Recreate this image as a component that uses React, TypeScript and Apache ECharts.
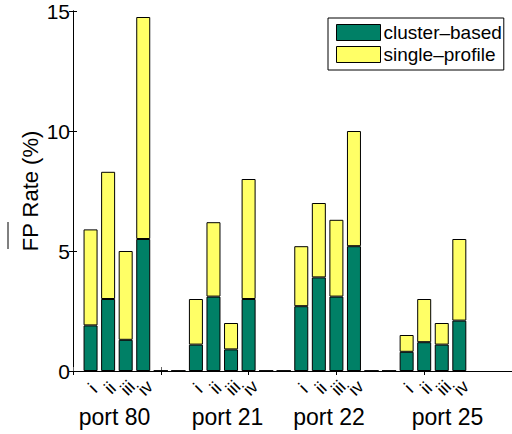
import React, { useEffect, useRef } from 'react';
import * as echarts from 'echarts';

// ---- data ----
const barLabels = ['i', 'ii', 'iii', 'iv', '', '', 'i', 'ii', 'iii', 'iv', '', '', 'i', 'ii', 'iii', 'iv', '', '', 'i', 'ii', 'iii', 'iv'];
const groupNames = ['port 80', 'port 21', 'port 22', 'port 25'];
// lower (green) segment
const clusterBased = [1.9, 3.0, 1.3, 5.5, 0, 0, 1.1, 3.1, 0.9, 3.0, 0, 0, 2.7, 3.9, 3.1, 5.2, 0, 0, 0.8, 1.2, 1.1, 2.1];
// upper (yellow) stacked segment
const singleProfile = [4.0, 5.3, 3.7, 9.25, 0, 0, 1.9, 3.1, 1.1, 5.0, 0, 0, 2.5, 3.1, 3.2, 4.8, 0, 0, 0.7, 1.8, 0.9, 3.4];
const yMin = 0;
const yMax = 15;
const yInterval = 5;
const xMin = 0;
const xMax = 25;
const xTickInterval = 5;

const FONT = '"Liberation Sans", Arial, Helvetica, sans-serif';
const GREEN = '#008066';
const YELLOW = '#FFFF66';

export default function App() {
  const ref = useRef<HTMLDivElement>(null);
  useEffect(() => {
    if (!ref.current) return;
    const chart = echarts.init(ref.current, undefined, { renderer: 'svg' });
    // category slots 0..25; bars occupy slots 1..22
    const slots: string[] = [];
    for (let k = xMin; k <= xMax; k++) slots.push(String(k));
    const toSlots = (arr: number[]) => slots.map((_, k) => (k >= 1 && k <= arr.length ? arr[k - 1] : '-'));
    const groupX = [114.5, 227.5, 329, 447.5];
    const option: any = {
      animation: false,
      backgroundColor: '#fff',
      grid: { left: 73, right: -3, top: 11, bottom: 63, containLabel: false },
      xAxis: [
        {
          type: 'category', data: slots, boundaryGap: false, position: 'bottom',
          axisLine: { show: true, lineStyle: { color: '#000', width: 1 } },
          axisTick: { show: false },
          splitLine: { show: false },
          axisLabel: { show: false },
        },
        {
          type: 'value', min: xMin, max: xMax, interval: xTickInterval, position: 'top',
          axisLine: { show: true, lineStyle: { color: '#000', width: 1 } },
          axisTick: { show: true, inside: true, length: 4, lineStyle: { color: '#000' } },
          axisLabel: { show: false },
          splitLine: { show: false },
        },
        {
          type: 'value', min: xMin, max: xMax, interval: xTickInterval, position: 'bottom',
          axisLine: { show: false },
          axisTick: { show: true, inside: true, length: 4, lineStyle: { color: '#666' } },
          axisLabel: { show: false },
          splitLine: { show: false },
        },
      ],
      yAxis: [
        {
          type: 'value', min: yMin, max: yMax, interval: yInterval, position: 'left',
          axisLine: { show: true, lineStyle: { color: '#000', width: 1 } },
          axisTick: { show: true, inside: true, length: 4, lineStyle: { color: '#000' } },
          axisLabel: { show: true, fontSize: 21, fontFamily: FONT, color: '#000', margin: 3 },
          splitLine: { show: false },
        },
        {
          type: 'value', min: yMin, max: yMax, interval: yInterval, position: 'right',
          axisLine: { show: true, lineStyle: { color: '#000', width: 1 } },
          axisTick: { show: true, inside: true, length: 4, lineStyle: { color: '#000' } },
          axisLabel: { show: false },
          splitLine: { show: false },
        },
      ],
      legend: {
        orient: 'vertical',
        left: 328, top: 18,
        padding: [5, 2, 6, 8],
        itemGap: 3,
        itemWidth: 44,
        itemHeight: 16,
        itemStyle: { borderColor: '#000', borderWidth: 1 },
        backgroundColor: '#fff',
        borderColor: '#000',
        borderWidth: 1,
        borderRadius: 0,
        icon: 'rect',
        textStyle: { fontSize: 19, fontFamily: FONT, color: '#000', padding: [0, 0, 0, -2] },
        data: ['cluster–based', 'single–profile'],
      },
      series: [
        {
          name: 'cluster–based', type: 'bar', stack: 'fp', xAxisIndex: 0, yAxisIndex: 0,
          barWidth: 14,
          itemStyle: { color: GREEN, borderColor: '#000', borderWidth: 1 },
          data: toSlots(clusterBased),
        },
        {
          name: 'single–profile', type: 'bar', stack: 'fp', xAxisIndex: 0, yAxisIndex: 0,
          barWidth: 14,
          itemStyle: { color: YELLOW, borderColor: '#000', borderWidth: 1 },
          data: toSlots(singleProfile),
        },
      ],
    };
    chart.setOption(option);

    const textStyle = (text: string, size: number) => ({
      text, fontSize: size, fontFamily: FONT, fill: '#000',
      textAlign: 'center', textVerticalAlign: 'middle', align: 'center', verticalAlign: 'middle',
    });
    const baseY = chart.convertToPixel({ yAxisIndex: 0 }, 0) as number;
    const numeralEls = barLabels
      .map((lab, i) => ({ lab, px: chart.convertToPixel({ xAxisIndex: 0 }, i + 1) as number }))
      .filter((d) => d.lab)
      .map((d) => ({
        type: 'group', x: d.px + 2, y: baseY + 17, rotation: Math.PI / 4,
        children: [{ type: 'text', x: 0, y: 0, style: textStyle(d.lab, 18) }],
      }));
    chart.setOption({
      graphic: [
        { type: 'text', x: 30, y: 191, rotation: Math.PI / 2, style: textStyle('FP Rate (%)', 22) },
        { type: 'line', shape: { x1: 8, y1: 222, x2: 8, y2: 249 }, style: { stroke: '#000', lineWidth: 1 } },
        ...groupNames.map((g, i) => ({ type: 'text', x: groupX[i], y: 417, style: textStyle(g, 23) })),
        ...numeralEls,
      ],
    });
    return () => chart.dispose();
  }, []);
  return <div ref={ref} style={{ position: 'fixed', left: 0, top: 0, width: 512, height: 434 }} />;
}
